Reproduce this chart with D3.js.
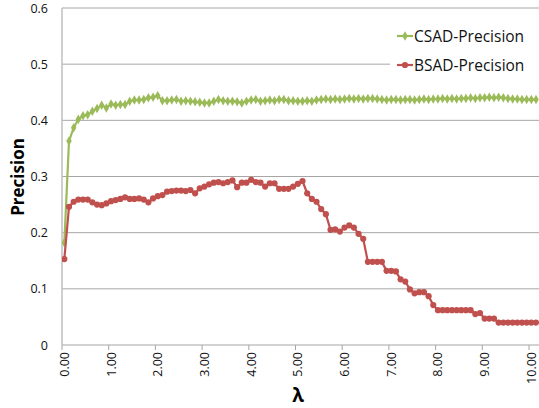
<!DOCTYPE html>
<html>
<head>
<meta charset="utf-8">
<script src="https://cdn.jsdelivr.net/npm/d3@7"></script>
<style>
  body { margin: 0; background: #fff; }
  svg { display: block; font-family: "Open Sans", "Liberation Sans", sans-serif; }
</style>
</head>
<body>
<svg width="539" height="408"></svg>
<script>
// lambda steps 0.0 .. 10.1
const lambdas = d3.range(0, 102).map(i => +(i / 10).toFixed(1));
const xTicks = [0, 1, 2, 3, 4, 5, 6, 7, 8, 9, 10];
const yTicks = [0, 0.1, 0.2, 0.3, 0.4, 0.5, 0.6];

const csad = [
  0.182, 0.363, 0.387, 0.402, 0.408, 0.410, 0.416, 0.421, 0.427, 0.422,
  0.429, 0.427, 0.428, 0.428, 0.434, 0.436, 0.436, 0.437, 0.440, 0.441,
  0.444, 0.435, 0.435, 0.436, 0.437, 0.434, 0.435, 0.434, 0.433, 0.432,
  0.431, 0.431, 0.434, 0.437, 0.435, 0.434, 0.434, 0.433, 0.431, 0.434,
  0.436, 0.437, 0.434, 0.435, 0.436, 0.435, 0.437, 0.437, 0.435, 0.435,
  0.434, 0.434, 0.435, 0.434, 0.436, 0.437, 0.438, 0.437, 0.438, 0.437,
  0.438, 0.439, 0.438, 0.439, 0.438, 0.439, 0.439, 0.438, 0.437, 0.436,
  0.437, 0.437, 0.436, 0.437, 0.437, 0.436, 0.437, 0.438, 0.437, 0.438,
  0.438, 0.439, 0.438, 0.439, 0.438, 0.439, 0.439, 0.440, 0.439, 0.440,
  0.440, 0.441, 0.440, 0.441, 0.440, 0.439, 0.438, 0.438, 0.437, 0.437,
  0.437, 0.437
];

const bsad = [
  0.153, 0.246, 0.255, 0.259, 0.259, 0.259, 0.254, 0.250, 0.249, 0.252,
  0.256, 0.258, 0.260, 0.263, 0.260, 0.260, 0.261, 0.259, 0.254, 0.261,
  0.265, 0.267, 0.273, 0.274, 0.275, 0.275, 0.274, 0.276, 0.270, 0.279,
  0.282, 0.286, 0.289, 0.290, 0.288, 0.290, 0.293, 0.281, 0.289, 0.289,
  0.294, 0.290, 0.289, 0.282, 0.288, 0.288, 0.278, 0.278, 0.278, 0.282,
  0.287, 0.292, 0.270, 0.260, 0.255, 0.242, 0.233, 0.205, 0.206, 0.202,
  0.209, 0.213, 0.209, 0.198, 0.189, 0.148, 0.148, 0.148, 0.148, 0.132,
  0.132, 0.131, 0.117, 0.113, 0.099, 0.092, 0.094, 0.094, 0.087, 0.071,
  0.062, 0.062, 0.062, 0.062, 0.062, 0.062, 0.062, 0.062, 0.055, 0.057,
  0.047, 0.047, 0.047, 0.040, 0.040, 0.040, 0.040, 0.040, 0.040, 0.040,
  0.040, 0.040
];

const green = "#9BBB59", red = "#C0504D";

const svg = d3.select("svg");
const plotLeft = 62, plotRight = 539, plotTop = 8, plotBottom = 345;

const x = d3.scaleLinear().domain([-0.05, 10.164]).range([plotLeft, plotRight]);
const y = d3.scaleLinear().domain([0, 0.6]).range([plotBottom, plotTop]);

// horizontal gridlines
svg.append("g")
  .selectAll("line")
  .data(yTicks.filter(d => d > 0))
  .join("line")
  .attr("x1", plotLeft).attr("x2", plotRight)
  .attr("y1", d => y(d)).attr("y2", d => y(d))
  .attr("stroke", "#a6a6a6").attr("stroke-width", 1);

// y tick labels
svg.append("g")
  .selectAll("text")
  .data(yTicks)
  .join("text")
  .attr("x", 48).attr("y", d => y(d) + 4.5)
  .attr("text-anchor", "end")
  .style("font-size", "12.5px")
  .attr("fill", "#111")
  .text(d => d === 0 ? "0" : d.toFixed(1));

// y axis line
svg.append("line")
  .attr("x1", plotLeft).attr("x2", plotLeft).attr("y1", plotTop).attr("y2", plotBottom)
  .attr("stroke", "#bfbfbf").attr("stroke-width", 1.5);

// x axis line + ticks
svg.append("line")
  .attr("x1", plotLeft).attr("x2", plotRight).attr("y1", plotBottom).attr("y2", plotBottom)
  .attr("stroke", "#a6a6a6").attr("stroke-width", 1.2);

svg.append("g")
  .selectAll("line")
  .data(xTicks)
  .join("line")
  .attr("x1", d => x(d - 0.05)).attr("x2", d => x(d - 0.05))
  .attr("y1", plotBottom).attr("y2", plotBottom + 5)
  .attr("stroke", "#a6a6a6");

svg.append("g")
  .selectAll("text")
  .data(xTicks)
  .join("text")
  .attr("transform", d => `translate(${x(d) + 4.5},${plotBottom + 7}) rotate(-90)`)
  .attr("text-anchor", "end")
  .style("font-size", "12.5px")
  .attr("fill", "#111")
  .text(d => d.toFixed(2));

// axis titles
svg.append("text")
  .attr("transform", `translate(24,177) rotate(-90)`)
  .attr("text-anchor", "middle")
  .style("font-size", "17px").style("font-weight", "bold")
  .text("Precision");

svg.append("text")
  .attr("x", 298).attr("y", 402)
  .attr("text-anchor", "middle")
  .style("font-size", "19px").style("font-weight", "bold")
  .text("λ");

// series
const series = [
  {name: "CSAD-Precision", values: csad, color: green, marker: "diamond"},
  {name: "BSAD-Precision", values: bsad, color: red, marker: "circle"}
];

const line = d3.line().x((d, i) => x(lambdas[i])).y(d => y(d));
const diamond = d3.symbol().type(d3.symbolDiamond).size(26);

svg.append("clipPath").attr("id", "clip")
  .append("rect").attr("x", plotLeft).attr("y", 0).attr("width", plotRight - plotLeft).attr("height", 408);

const plot = svg.append("g").attr("clip-path", "url(#clip)");

series.forEach(s => {
  plot.append("path")
    .datum(s.values)
    .attr("fill", "none")
    .attr("stroke", s.color)
    .attr("stroke-width", 2.2)
    .attr("d", line);
  if (s.marker === "circle") {
    plot.append("g").selectAll("circle")
      .data(s.values)
      .join("circle")
      .attr("cx", (d, i) => x(lambdas[i]))
      .attr("cy", d => y(d))
      .attr("r", 3.1)
      .attr("fill", s.color);
  } else {
    plot.append("g").selectAll("path")
      .data(s.values)
      .join("path")
      .attr("d", diamond)
      .attr("transform", (d, i) => `translate(${x(lambdas[i])},${y(d)})`)
      .attr("fill", s.color);
  }
});

// legend
const legend = svg.append("g");
legend.append("rect")
  .attr("x", 390).attr("y", 20).attr("width", 149).attr("height", 60)
  .attr("fill", "#fff");
series.forEach((s, i) => {
  const ly = 36 + i * 29;
  legend.append("line")
    .attr("x1", 397).attr("x2", 413).attr("y1", ly).attr("y2", ly)
    .attr("stroke", s.color).attr("stroke-width", 2.2);
  if (s.marker === "circle") {
    legend.append("circle").attr("cx", 405).attr("cy", ly).attr("r", 3.1).attr("fill", s.color);
  } else {
    legend.append("path").attr("d", diamond)
      .attr("transform", `translate(405,${ly})`).attr("fill", s.color);
  }
  legend.append("text")
    .attr("x", 414).attr("y", ly + 5.5)
    .style("font-size", "15.5px")
    .attr("fill", "#111")
    .text(s.name);
});
</script>
</body>
</html>
